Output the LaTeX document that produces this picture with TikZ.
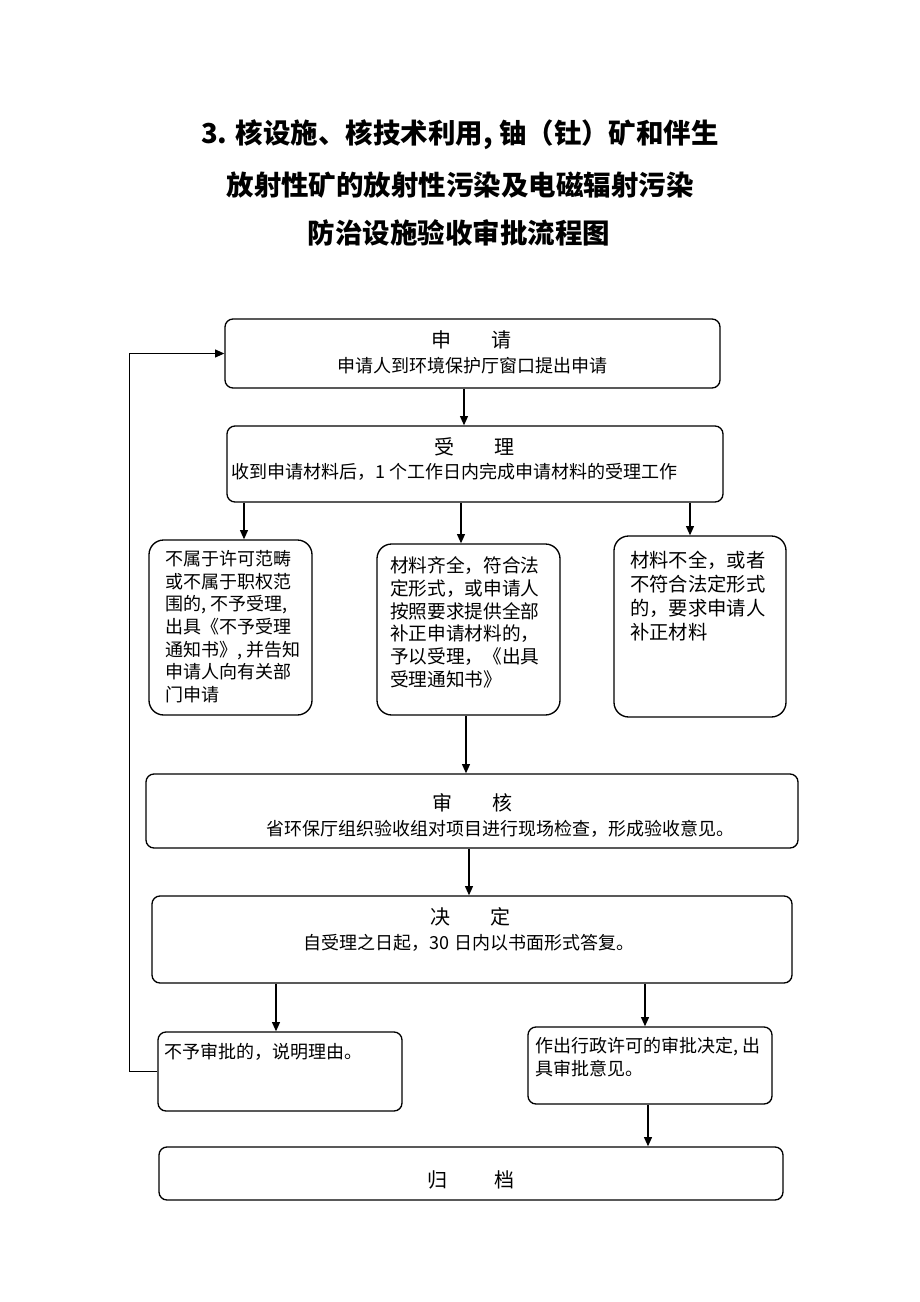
\documentclass[tikz,border=0pt]{standalone}
\usepackage{fontspec}
\setmainfont{Noto Sans CJK SC}
\usetikzlibrary{arrows.meta}

\tikzset{
  box/.style={draw, line width=1pt, rounded corners=6pt, inner sep=0pt},
  sbox/.style={box, rounded corners=11pt},
  arr/.style={-{Triangle[length=7pt,width=6pt]}, line width=1pt},
  head/.style={inner sep=0pt, font=\fontsize{15}{18}\selectfont},
  txt/.style={inner sep=0pt, align=left, font=\fontsize{13.5}{17}\selectfont},
  ttl/.style={inner sep=0pt, font=\fontsize{20.6}{25}\selectfont\bfseries}
}

\begin{document}
\begin{tikzpicture}[x=0.75pt, y=-0.75pt]
    \useasboundingbox (0,0) rectangle (920,1302);
    % Title
    \node [ttl] (t1) at (460,135) {3. 核设施、核技术利用, 铀（钍）矿和伴生};
    \node [ttl] (t2) at (460,185) {放射性矿的放射性污染及电磁辐射污染};
    \node [ttl] (t3) at (459,233) {防治设施验收审批流程图};

    % Draw boxes
    \node [box, minimum width=371.25pt, minimum height=51.75pt] (req) at (472.5,353.5) {};
    \node [box, minimum width=372pt, minimum height=57pt] (acc) at (475,464) {};
    \node [sbox, minimum width=122.25pt, minimum height=131.25pt] (rej) at (230.5,627.5) {};
    \node [sbox, minimum width=137.25pt, minimum height=128.25pt] (ok) at (468.5,629.5) {};
    \node [sbox, minimum width=129pt, minimum height=135.75pt] (sup) at (700,626.5) {};
    \node [box, minimum width=489pt, minimum height=55.5pt] (rev) at (472,811) {};
    \node [box, minimum width=480pt, minimum height=65.25pt] (dec) at (472,939.5) {};
    \node [box, minimum width=183pt, minimum height=59.25pt] (deny) at (280,1071.5) {};
    \node [box, minimum width=183pt, minimum height=57.75pt] (grant) at (650,1065.5) {};
    \node [box, minimum width=468pt, minimum height=39.75pt] (arch) at (471,1173.5) {};

    % Texts in the boxes
    \node [head] (lreq) at (471,340) {申\hspace{2em}请};
    \node [txt] (treq) at (472,366) {申请人到环境保护厅窗口提出申请};
    \node [head] (lacc) at (474,447) {受\hspace{2em}理};
    \node [txt, anchor=west] (tacc) at (231,472) {收到申请材料后，1 个工作日内完成申请材料的受理工作};
    \node [txt, anchor=north west] (trej) at (165,550) {不属于许可范畴\\或不属于职权范\\围的, 不予受理,\\出具《不予受理\\通知书》, 并告知\\申请人向有关部\\门申请};
    \node [txt, anchor=north west, font=\fontsize{14}{17.2}\selectfont] (tok) at (390,556) {材料齐全，符合法\\定形式，或申请人\\按照要求提供全部\\补正申请材料的，\\予以受理，《出具\\受理通知书》};
    \node [txt, anchor=north west, font=\fontsize{14.5}{18}\selectfont] (tsup) at (630,551) {材料不全，或者\\不符合法定形式\\的，要求申请人\\补正材料};
    \node [head] (lrev) at (472,803) {审\hspace{2em}核};
    \node [txt] (trev) at (500,829) {省环保厅组织验收组对项目进行现场检查，形成验收意见。};
    \node [head] (ldec) at (470,917) {决\hspace{2em}定};
    \node [txt] (tdec) at (469,943) {自受理之日起，30 日内以书面形式答复。};
    \node [txt, anchor=west] (tdeny) at (164,1052) {不予审批的，说明理由。};
    \node [txt, anchor=north west] (tgrant) at (535,1037) {作出行政许可的审批决定, 出\\具审批意见。};
    \node [head] (larch) at (471,1180) {归\hspace{2.4em}档};

    % Arrows
    \draw [arr] (req.south -| 464,0) -- (acc.north -| 464,0);
    \draw [arr] (acc.south -| 244,0) -- (rej.north -| 244,0);
    \draw [arr] (acc.south -| 461,0) -- (ok.north -| 461,0);
    \draw [arr] (acc.south -| 690,0) -- (sup.north -| 690,0);
    \draw [arr] (ok.south -| 466,0) -- (rev.north -| 466,0);
    \draw [arr] (rev.south -| 469,0) -- (dec.north -| 469,0);
    \draw [arr] (dec.south -| 276,0) -- (deny.north -| 276,0);
    \draw [arr] (dec.south -| 645,0) -- (grant.north -| 645,0);
    \draw [arr] (grant.south -| 648,0) -- (arch.north -| 648,0);
    \draw [arr] (deny.west) -- ++(-28,0) |- (req.west);
\end{tikzpicture}
\end{document}
